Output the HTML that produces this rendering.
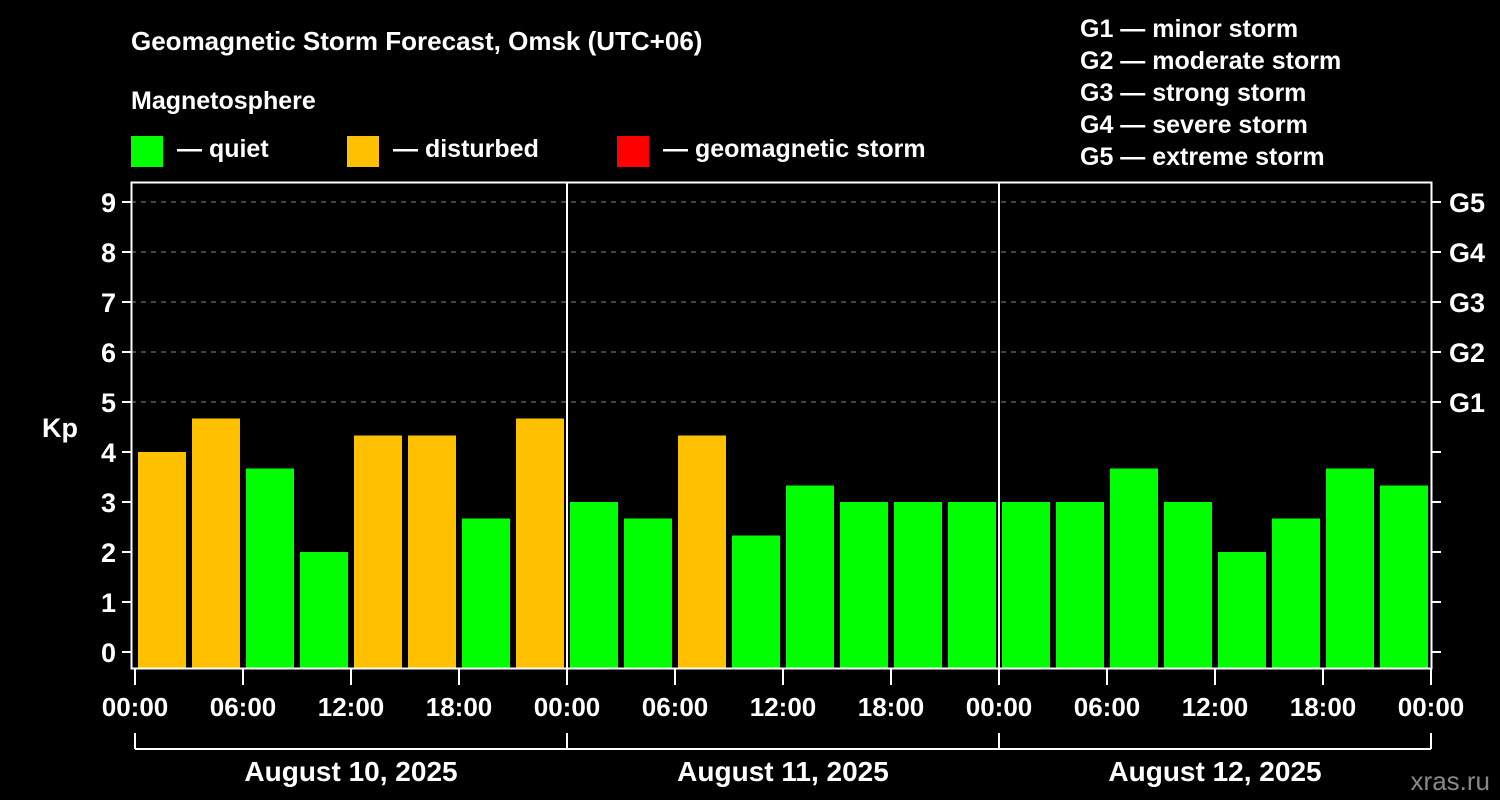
<!DOCTYPE html>
<html><head><meta charset="utf-8"><style>
body{margin:0;background:#000;}
svg{display:block;font-family:"Liberation Sans",sans-serif;font-weight:bold;}
</style></head><body>
<svg id="c" width="1500" height="800" viewBox="0 0 1500 800">
<rect width="1500" height="800" fill="#000"/>
<text x="131" y="50" fill="#fff" font-size="26">Geomagnetic Storm Forecast, Omsk (UTC+06)</text>
<text x="131" y="109" fill="#fff" font-size="25">Magnetosphere</text>
<g><rect x="131" y="136" width="32" height="31" fill="#00ff00"/><text x="177" y="157" fill="#fff" font-size="25">— quiet</text></g>
<g><rect x="347" y="136" width="32" height="31" fill="#ffc000"/><text x="393" y="157" fill="#fff" font-size="25">— disturbed</text></g>
<g><rect x="617" y="136" width="32" height="31" fill="#ff0000"/><text x="663" y="157" fill="#fff" font-size="25">— geomagnetic storm</text></g>
<g fill="#fff" font-size="25">
<text x="1080" y="37">G1 — minor storm</text><text x="1080" y="69">G2 — moderate storm</text><text x="1080" y="101">G3 — strong storm</text><text x="1080" y="133">G4 — severe storm</text><text x="1080" y="165">G5 — extreme storm</text>
</g>
<text x="42" y="437" fill="#fff" font-size="27">Kp</text>
<text x="1490" y="790" fill="#888" font-size="26" text-anchor="end" font-weight="normal">xras.ru</text>
<g id="g"></g>
</svg>
<script>
const days = ["August 10, 2025","August 11, 2025","August 12, 2025"];
const kpValues = [4,4.67,3.67,2,4.33,4.33,2.67,4.67, 3,2.67,4.33,2.33,3.33,3,3,3, 3,3,3.67,3,2,2.67,3.67,3.33];
const yTicks = [0,1,2,3,4,5,6,7,8,9];
const gLabels = ["G1","G2","G3","G4","G5"];
const xTickLabels = ["00:00","06:00","12:00","18:00"];
const NS="http://www.w3.org/2000/svg", g=document.getElementById('g');
function el(t,a){const e=document.createElementNS(NS,t);for(const k in a)e.setAttribute(k,a[k]);g.appendChild(e);return e;}
const x0=135, dayW=432, nBars=kpValues.length, slot=dayW*days.length/nBars;
const y=v=>652-v*50;
const X=h=>x0+h/24*dayW;
// grid
for(const v of [5,6,7,8,9]){const l=el('line',{x1:131,x2:1432,y1:y(v),y2:y(v),stroke:'#888','stroke-dasharray':'5,5','stroke-width':1});

}
// bars
kpValues.forEach((v,i)=>{const c=v>=5?'#ff0000':(v>=4?'#ffc000':'#00ff00');
const r=el('rect',{x:x0+i*slot+3,y:y(v),width:slot-6,height:668-y(v),fill:c});

});
// frame
const f=el('rect',{x:131.5,y:182.5,width:1300,height:486,fill:'none',stroke:'#fff','stroke-width':2});


for(let d=1;d<days.length;d++){const l=el('line',{x1:X(24*d),x2:X(24*d),y1:182,y2:668,stroke:'#fff','stroke-width':2});

}
// y ticks
yTicks.forEach(v=>{el('line',{x1:122,x2:131,y1:y(v),y2:y(v),stroke:'#fff','stroke-width':2});
el('line',{x1:1432,x2:1441,y1:y(v),y2:y(v),stroke:'#fff','stroke-width':2});
const t=el('text',{x:116,y:y(v)+10,fill:'#fff','font-size':27,'text-anchor':'end'});t.textContent=v;

});
gLabels.forEach((s,i)=>{const t=el('text',{x:1449,y:y(5+i)+10,fill:'#fff','font-size':27});t.textContent=s;

});
// x ticks
for(let h=0;h<=24*days.length;h+=6){const xx=X(h);
el('line',{x1:xx,x2:xx,y1:668,y2:685,stroke:'#fff','stroke-width':2});
const t=el('text',{x:xx,y:716,fill:'#fff','font-size':26,'text-anchor':'middle'});t.textContent=xTickLabels[(h/6)%4];

}
// day brackets
el('line',{x1:X(0),x2:X(24*days.length),y1:749,y2:749,stroke:'#fff','stroke-width':2});
for(let d=0;d<=days.length;d++)el('line',{x1:X(24*d),x2:X(24*d),y1:733,y2:749,stroke:'#fff','stroke-width':2});
days.forEach((s,d)=>{const t=el('text',{x:X(24*d+12),y:781,fill:'#fff','font-size':28,'text-anchor':'middle'});t.textContent=s;

});
</script>
</body></html>
